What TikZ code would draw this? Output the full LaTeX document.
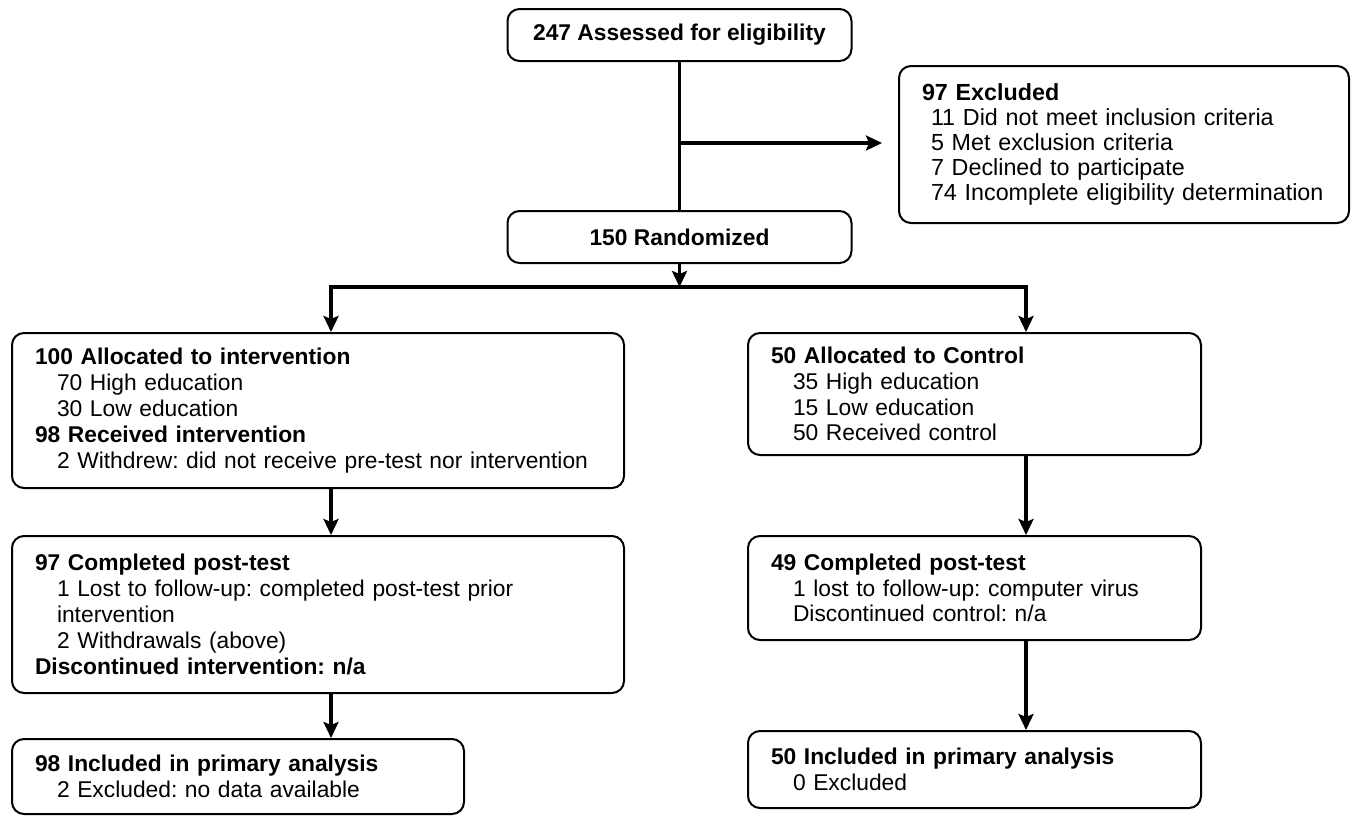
\documentclass[tikz,border=0pt]{standalone}
\usepackage{fontspec}
\setmainfont{Liberation Sans}
\usetikzlibrary{arrows.meta}
\frenchspacing
\begin{document}
\begin{tikzpicture}[x=1pt,y=-1pt,
  box/.style={draw, line width=2pt, rounded corners=12pt, anchor=north west,
    inner xsep=23pt, inner ysep=0pt, align=left,
    font=\fontsize{22.8}{25.8}\selectfont\frenchspacing},
  cbox/.style={draw, line width=2pt, rounded corners=12pt, anchor=center,
    minimum width=344pt, minimum height=52pt, inner sep=0pt,
    font=\fontsize{22.8}{25.8}\selectfont\bfseries},
  conn/.style={line width=3.5pt},
  arr/.style={-{Stealth[length=16pt,width=15pt,inset=3pt]}}
]
\useasboundingbox (0,0) rectangle (1356,815);

% columns for the vertical connectors
\coordinate (colL) at (331,0);
\coordinate (colR) at (1026,0);

\node[cbox] (assess) at (679.5,35) {247 Assessed for eligibility};
\node[cbox] (rand) at (679.5,237) {150 Randomized};

\node[box, minimum width=450pt, minimum height=157pt, text width=404pt,
  font=\fontsize{23.3}{25}\selectfont\frenchspacing] (excl) at (898,65)
  {\textbf{97 Excluded}\\
   \hspace*{9pt}11 Did not meet inclusion criteria\\
   \hspace*{9pt}5 Met exclusion criteria\\
   \hspace*{9pt}7 Declined to participate\\
   \hspace*{9pt}74 Incomplete eligibility determination};

\node[box, minimum width=612pt, minimum height=155pt, text width=566pt] (allocI) at (11,332)
  {\textbf{100 Allocated to intervention}\\
   \hspace*{22pt}70 High education\\
   \hspace*{22pt}30 Low education\\
   \textbf{98 Received intervention}\\
   \hspace*{22pt}2 Withdrew: did not receive pre-test nor intervention};

\node[box, minimum width=453pt, minimum height=122pt, text width=407pt] (allocC) at (747,332)
  {\textbf{50 Allocated to Control}\\
   \hspace*{22pt}35 High education\\
   \hspace*{22pt}15 Low education\\
   \hspace*{22pt}50 Received control};

\node[box, minimum width=612pt, minimum height=157pt, text width=566pt] (postI) at (11,535)
  {\textbf{97 Completed post-test}\\
   \hspace*{22pt}1 Lost to follow-up: completed post-test prior\\
   \hspace*{22pt}intervention\\
   \hspace*{22pt}2 Withdrawals (above)\\
   \textbf{Discontinued intervention: n/a}};

\node[box, minimum width=453pt, minimum height=104pt, text width=407pt] (postC) at (747,535)
  {\textbf{49 Completed post-test}\\
   \hspace*{22pt}1 lost to follow-up: computer virus\\
   \hspace*{22pt}Discontinued control: n/a};

\node[box, minimum width=452pt, minimum height=75pt, text width=406pt] (anaI) at (11,738)
  {\textbf{98 Included in primary analysis}\\
   \hspace*{22pt}2 Excluded: no data available};

\node[box, minimum width=453pt, minimum height=77pt, text width=407pt] (anaC) at (747,730)
  {\textbf{50 Included in primary analysis}\\
   \hspace*{22pt}0 Excluded};

% connectors
\coordinate (branch) at (679.5,143);
\coordinate (split) at (679.5,287);
\draw[conn] (assess.south) -- (rand.north);
\draw[conn, arr, shorten >=16pt] (branch) -- (branch -| excl.west);
\draw[conn, arr] (rand.south) -- (split);
\draw[conn, arr] (split) -| (allocI.north -| colL);
\draw[conn, arr] (split) -| (allocC.north -| colR);
\draw[conn, arr] (allocI.south -| colL) -- (postI.north -| colL);
\draw[conn, arr] (allocC.south -| colR) -- (postC.north -| colR);
\draw[conn, arr] (postI.south -| colL) -- (anaI.north -| colL);
\draw[conn, arr] (postC.south -| colR) -- (anaC.north -| colR);
\end{tikzpicture}
\end{document}
